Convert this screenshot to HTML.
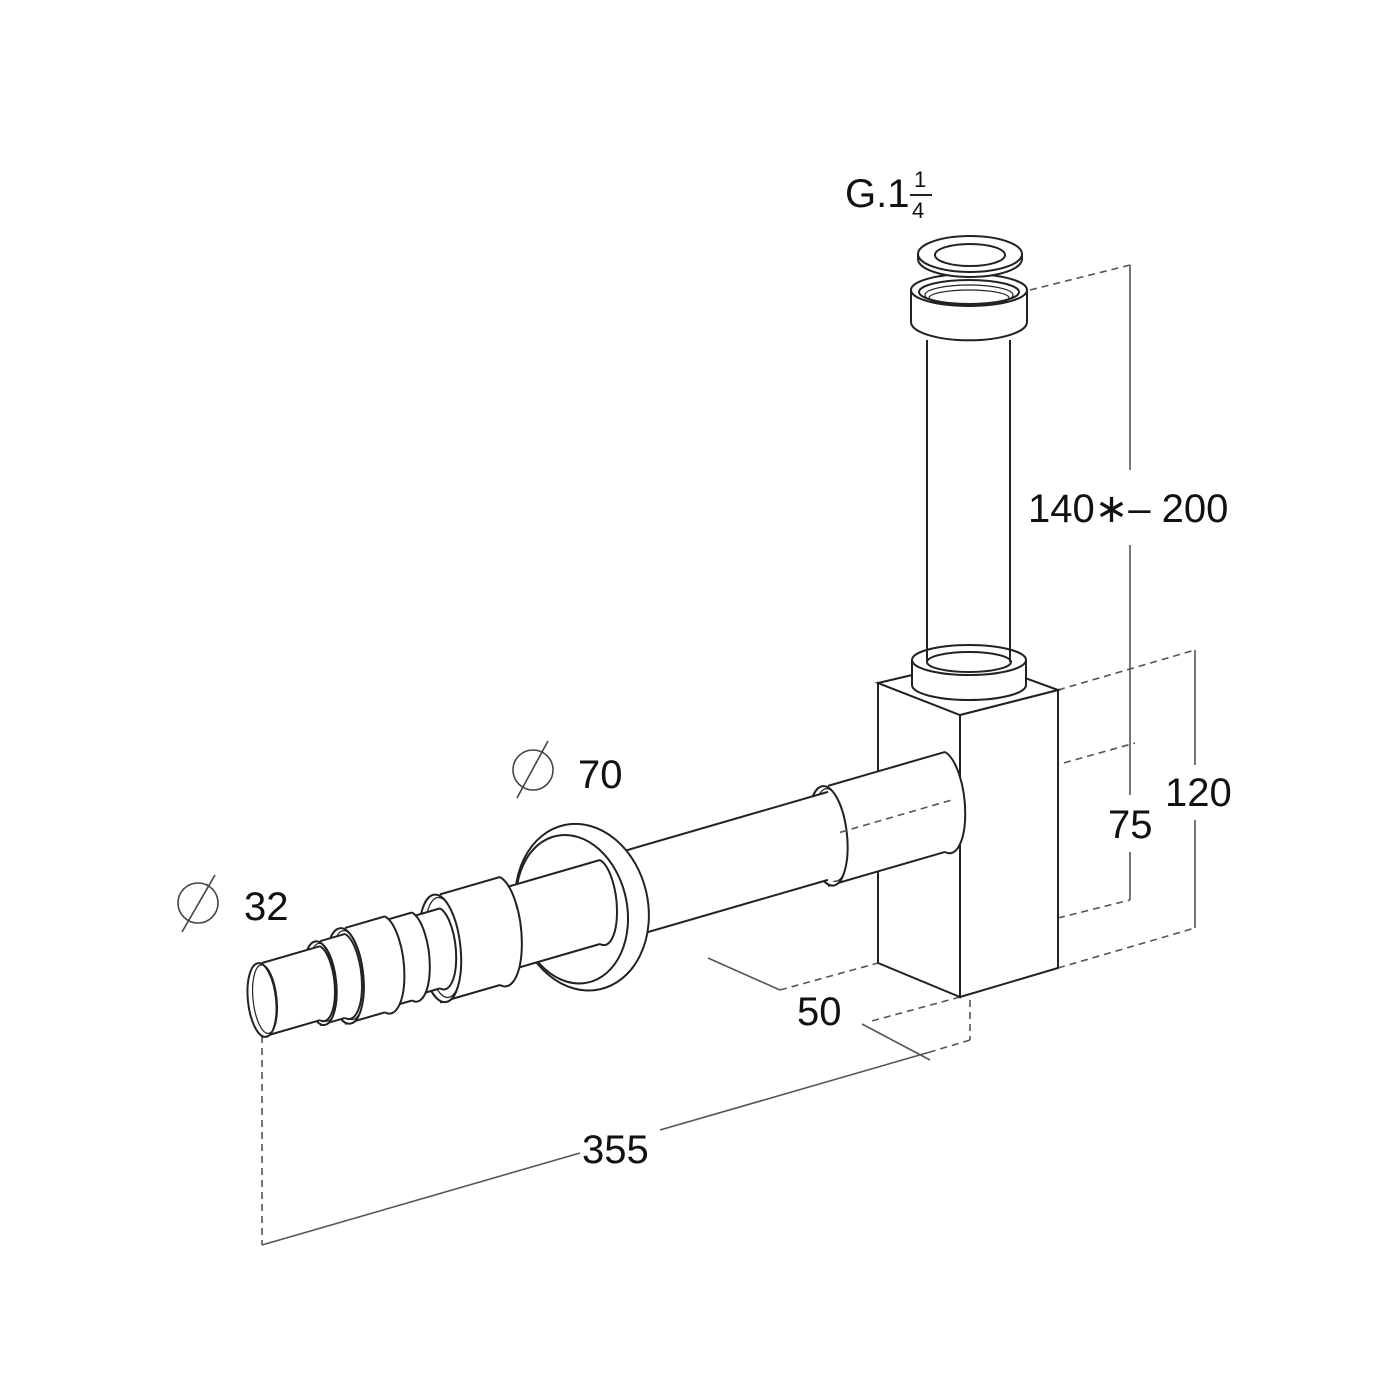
<!DOCTYPE html>
<html><head><meta charset="utf-8"><style>
html,body{margin:0;padding:0;background:#fff}
svg{display:block}
text{font-family:"Liberation Sans",sans-serif;fill:#111}
</style></head><body>
<svg id="s" width="1400" height="1400" viewBox="0 0 1400 1400" xmlns="http://www.w3.org/2000/svg">
<g fill="none" stroke="#222" stroke-width="2">
<g stroke="#555" stroke-width="1.6">
<line x1="1130" y1="265" x2="1130" y2="470"/>
<line x1="1130" y1="545" x2="1130" y2="795"/>
<line x1="1130" y1="852" x2="1130" y2="900"/>
<line x1="1195" y1="650" x2="1195" y2="765"/>
<line x1="1195" y1="820" x2="1195" y2="928"/>
<line x1="708" y1="958" x2="780" y2="990"/>
<line x1="862" y1="1024" x2="930" y2="1060"/>
<line x1="930" y1="1052" x2="660" y2="1130"/>
<line x1="580" y1="1153" x2="262" y2="1245"/>
</g>
<g stroke="#555" stroke-width="1.6" stroke-dasharray="7,5">
<line x1="1030" y1="290" x2="1130" y2="265"/>
<line x1="1058" y1="690" x2="1195" y2="650"/>
<line x1="1058" y1="968" x2="1195" y2="928"/>
<line x1="1058" y1="918" x2="1130" y2="900"/>
<line x1="960" y1="792" x2="1135" y2="743"/>
<line x1="780" y1="990" x2="878" y2="963"/>
<line x1="960" y1="997" x2="868" y2="1022"/>
<line x1="970" y1="1000" x2="970" y2="1040"/>
<line x1="970" y1="1040" x2="930" y2="1052"/>
<line x1="262" y1="1000" x2="262" y2="1245"/>
</g>

<line x1="927" y1="340" x2="927" y2="660"/>
<line x1="1010" y1="340" x2="1010" y2="660"/>
<path d="M911 290 L911 322 A57 18 0 0 0 1027 322 L1027 290" fill="#fff"/>
<ellipse cx="969" cy="290" rx="58" ry="16" fill="#fff"/>
<ellipse cx="969" cy="292" rx="50" ry="12"/>
<ellipse cx="969" cy="295" rx="44" ry="10" stroke-width="1.2"/>
<ellipse cx="969" cy="298" rx="40" ry="8" stroke-width="1.2"/>
<path d="M918 254 L918 259 A52 18 0 0 0 1022 259 L1022 254" fill="#fff"/>
<ellipse cx="970" cy="254" rx="52" ry="18" fill="#fff"/>
<ellipse cx="970" cy="255" rx="35" ry="11"/>

<polygon points="878,683 960,715 960,997 878,963" fill="#fff"/>
<polygon points="960,715 1058,690 1058,968 960,997" fill="#fff"/>
<polygon points="878,683 960,715 1058,690 976,660" fill="#fff"/>
<path d="M912 660 L912 685 A57 15 0 0 0 1026 685 L1026 660" fill="#fff"/>
<ellipse cx="969" cy="660" rx="57" ry="15" fill="#fff"/>
<ellipse cx="969" cy="662" rx="42" ry="10"/>
<line x1="927" y1="600" x2="927" y2="662"/>
<line x1="1010" y1="600" x2="1010" y2="662"/>

<g id="h"></g>

<g stroke="#444" stroke-width="1.6">
<circle cx="198" cy="903" r="20"/>
<line x1="182" y1="932" x2="215" y2="875"/>
<circle cx="533" cy="770" r="20"/>
<line x1="517" y1="798" x2="548" y2="741"/>
</g>
</g>

<g font-size="40">
<text x="244" y="920">32</text>
<text x="578" y="788">70</text>
<text x="1028" y="522">140∗– 200</text>
<text x="1108" y="838">75</text>
<text x="1165" y="806">120</text>
<text x="797" y="1025">50</text>
<text x="582" y="1163">355</text>
<text x="845" y="207">G.1</text>
</g>
<text x="914" y="187" font-size="22">1</text>
<line x1="910" y1="195" x2="932" y2="195" stroke="#222" stroke-width="2"/>
<text x="912" y="218" font-size="22">4</text>
</svg>
<script>
(function(){
var g=document.getElementById('h');var NS='http://www.w3.org/2000/svg';
function c(x){return 1000-0.29*(x-262);}
function el(t,a){var e=document.createElementNS(NS,t);for(var k in a)e.setAttribute(k,a[k]);g.appendChild(e);return e;}
function cyl(x1,x2,r,endArc){
  var y1=c(x1),y2=c(x2),rx=r*0.38;
  el('path',{d:'M'+x1+' '+(y1-r)+' L'+x2+' '+(y2-r)+' A'+rx+' '+r+' -6 0 1 '+x2+' '+(y2+r)+' L'+x1+' '+(y1+r)+' Z',fill:'#fff',stroke:'none'});
  el('line',{x1:x1,y1:y1-r,x2:x2,y2:y2-r});
  el('line',{x1:x1,y1:y1+r,x2:x2,y2:y2+r});
  if(endArc) el('path',{d:'M'+x2+' '+(y2-r)+' A'+rx+' '+r+' -6 0 1 '+x2+' '+(y2+r)});
  el('ellipse',{cx:x1,cy:y1,rx:rx,ry:r,transform:'rotate(-6 '+x1+' '+y1+')',fill:'#fff'});
  el('ellipse',{cx:x1+3,cy:c(x1+3),rx:rx*0.85,ry:r*0.93,transform:'rotate(-6 '+(x1+3)+' '+c(x1+3)+')','stroke-width':1.2});
}
cyl(828,945,50,true);
cyl(600,828,44,false);
var ex=582,ey=c(582);
el('ellipse',{cx:ex,cy:ey,rx:66,ry:84,transform:'rotate(-12 '+ex+' '+ey+')',fill:'#fff'});
el('ellipse',{cx:ex-10,cy:ey+2,rx:55,ry:75,transform:'rotate(-12 '+(ex-10)+' '+(ey+2)+')'});
cyl(500,600,42,true);
cyl(440,500,54,true);
cyl(412,440,40,true);
cyl(385,412,44,true);
cyl(345,385,48,true);
cyl(320,345,42,true);
cyl(262,320,37,true);
el('line',{x1:840,y1:c(840),x2:955,y2:c(955),stroke:'#555','stroke-width':1.6,'stroke-dasharray':'7,5'});
})();
</script>
</body></html>
